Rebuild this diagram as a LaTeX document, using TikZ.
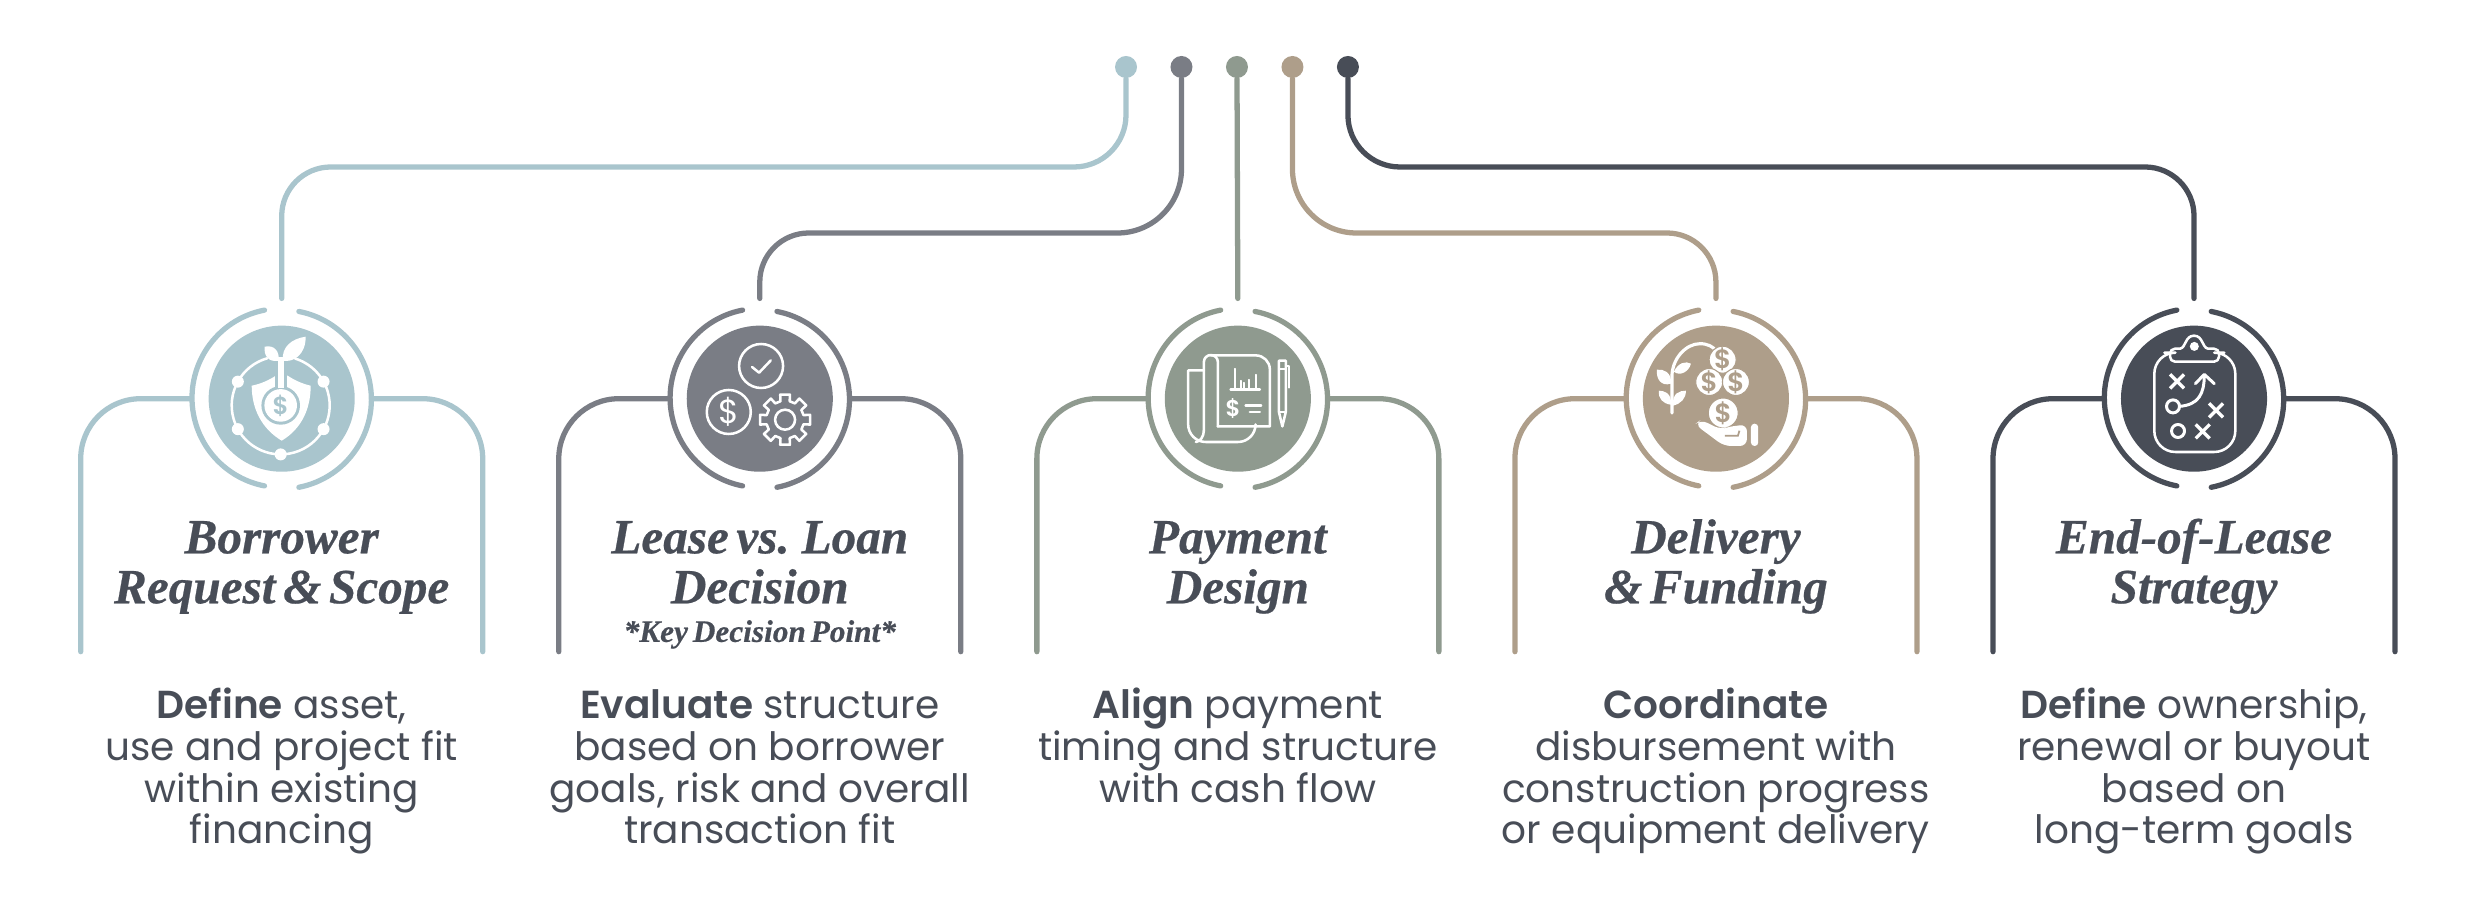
\documentclass[tikz,border=0pt]{standalone}
\usepackage{fontspec}
\usetikzlibrary{positioning}

\newfontfamily\headfont{Liberation Serif}[WordSpace=.62,BoldItalicFeatures={FakeBold=.5}]
\newfontfamily\bodyfont{Poppins}[BoldFont={Poppins SemiBold}]

\newcommand{\headlift}{\rule{0pt}{10pt}}
\newcommand{\bodylift}{\rule{0pt}{8.8pt}}

\definecolor{mist}{HTML}{A9C5CD}
\definecolor{steel}{HTML}{7A7D85}
\definecolor{sage}{HTML}{8F9A8F}
\definecolor{sand}{HTML}{AE9E8A}
\definecolor{slate}{HTML}{484D57}

\tikzset{
  dotnode/.style={circle,fill=#1,minimum size=.22cm,inner sep=0},
  hub/.style={circle,minimum size=1.79cm,inner sep=0},
  disk/.style={circle,fill=#1,minimum size=1.46cm,inner sep=0},
  link/.style={draw=#1,line width=1.5pt,line cap=round},
  headtext/.style={anchor=north,inner sep=0,align=center,text=slate,font=\headfont\bfseries\itshape\fontsize{14}{14.2}\selectfont},
  notetext/.style={anchor=north,inner sep=0,align=center,text=slate,font=\headfont\bfseries\itshape\fontsize{8.9}{10}\selectfont},
  bodytext/.style={anchor=north,inner sep=0,align=center,text=slate,font=\bodyfont\fontsize{11.1}{11.86}\selectfont},
  glyph/.style={draw=white,line width=.72pt,line cap=round,line join=round},
  coin/.style={inner sep=0,font=\bodyfont\bfseries\fontsize{#1}{#1}\selectfont}
}

\begin{document}
\begin{tikzpicture}[x=.01cm,y=.01cm,node distance=4.778cm]
    \useasboundingbox (0,0) rectangle (2475,900);

    % rails
    \coordinate (rail1) at (0,733);
    \coordinate (rail2) at (0,667);

    % dots
    \begin{scope}[node distance=.5545cm]
        \node[dotnode=mist]  (dot1) at (1126,833) {};
        \node[dotnode=steel] (dot2) [right of=dot1] {};
        \node[dotnode=sage]  (dot3) [right of=dot2] {};
        \node[dotnode=sand]  (dot4) [right of=dot3] {};
        \node[dotnode=slate] (dot5) [right of=dot4] {};
    \end{scope}

    % hubs
    \node[hub] (hub1) at (281.7,501.3) {};
    \node[hub] (hub2) [right of=hub1] {};
    \node[hub] (hub3) [right of=hub2] {};
    \node[hub] (hub4) [right of=hub3] {};
    \node[hub] (hub5) [right of=hub4] {};

    \foreach \i/\tint in {1/mist,2/steel,3/sage,4/sand,5/slate} {
        \node[disk=\tint] (disk\i) at (hub\i.center) {};
        \draw[link=\tint] (hub\i.101) arc[start angle=101,end angle=259,radius=.895cm];
        \draw[link=\tint] (hub\i.-79) arc[start angle=-79,end angle=79,radius=.895cm];
        \coordinate (footL\i) at ([shift={(-201,-253)}]hub\i.center);
        \coordinate (footR\i) at ([shift={(201,-253)}]hub\i.center);
        \draw[link=\tint,rounded corners=.6cm] (hub\i.west) -| (footL\i);
        \draw[link=\tint,rounded corners=.6cm] (hub\i.east) -| (footR\i);
    }

    % connectors
    \draw[link=mist,shorten >=.1cm,rounded corners=.52cm] (dot1) -- (dot1 |- rail1) [rounded corners=.49cm] -- (hub1 |- rail1) -- (hub1.north);
    \draw[link=steel,shorten >=.1cm,rounded corners=.64cm] (dot2) -- (dot2 |- rail2) [rounded corners=.49cm] -- (hub2 |- rail2) -- (hub2.north);
    \draw[link=sage,shorten >=.1cm] (dot3) -- (hub3.north);
    \draw[link=sand,shorten >=.1cm,rounded corners=.64cm] (dot4) -- (dot4 |- rail2) [rounded corners=.49cm] -- (hub4 |- rail2) -- (hub4.north);
    \draw[link=slate,shorten >=.1cm,rounded corners=.52cm] (dot5) -- (dot5 |- rail1) [rounded corners=.49cm] -- (hub5 |- rail1) -- (hub5.north);

    % titles
    \node[headtext] (head1) [below=.285cm of hub1] {\headlift Borrower\\Request \& Scope};
    \node[headtext] (head2) [below=.285cm of hub2] {\headlift Lease vs. Loan\\Decision};
    \node[headtext] (head3) [below=.285cm of hub3] {\headlift Payment\\Design};
    \node[headtext] (head4) [below=.285cm of hub4] {\headlift Delivery\\\& Funding};
    \node[headtext] (head5) [below=.285cm of hub5] {\headlift End-of-Lease\\Strategy};
    \node[notetext] (note2) [below=.15cm of head2] {*Key Decision Point*};

    % body text
    \node[bodytext] (body1) [below=1.98cm of hub1] {\bodylift\textbf{Define} asset,\\use and project fit\\within existing\\financing};
    \node[bodytext] (body2) [below=1.98cm of hub2] {\bodylift\textbf{Evaluate} structure\\based on borrower\\goals, risk and overall\\transaction fit};
    \node[bodytext] (body3) [below=1.98cm of hub3] {\bodylift\textbf{Align} payment\\timing and structure\\with cash flow};
    \node[bodytext] (body4) [below=1.98cm of hub4] {\bodylift\textbf{Coordinate}\\disbursement with\\construction progress\\or equipment delivery};
    \node[bodytext] (body5) [below=1.98cm of hub5] {\bodylift\textbf{Define} ownership,\\renewal or buyout\\based on\\long-term goals};

    % icon 1: shield and sprout
    \begin{scope}[shift={(hub1.center)}]
        \draw[glyph] (-1,-6.7) ++(106:49) arc[start angle=106,end angle=433,radius=49];
        \foreach \a in {151,209,270,331,29}
            \fill[white] (-1,-6.7) ++(\a:49) circle (6);
        \fill[white] (-30,13) .. controls (-20,15) and (-12,19) .. (-6,23) -- (6,23) .. controls (12,19) and (20,15) .. (29,13) .. controls (29,-10) and (20,-30) .. (0,-42) .. controls (-20,-30) and (-30,-10) .. (-30,13);
        \fill[mist] (-1,-6.7) circle (19.3);
        \fill[white] (-1,-6.7) circle (16.3);
        \fill[mist] (-7,10) rectangle (5,25);
        \fill[white] (-4,11) rectangle (2,42);
        \fill[white] (-3,38) .. controls (-14,36) and (-18,44) .. (-17,52) .. controls (-8,54) and (-2,48) .. (-3,38);
        \fill[white] (1,38) .. controls (12,36) and (24,44) .. (24,62) .. controls (10,60) and (0,52) .. (1,38);
        \node[coin=7,text=mist] (coin1) at (-1,-7) {\$};
    \end{scope}

    % icon 2: check, dollar, gear
    \begin{scope}[shift={(hub2.center)}]
        \draw[glyph] (1.3,32.7) circle (22);
        \draw[glyph] (-7.7,31.7) -- (-.7,26) -- (11,38.3);
        \draw[glyph] (-31,-13.3) circle (22);
        \node[coin=9.5,text=white] (coin2) at (-31,-13.3) {\mdseries\$};
        \begin{scope}[shift={(25.3,-21)}]
            \draw[glyph] (-11:25.5) foreach \a in {0,45,...,315} { -- (\a-11:25.5) -- (\a+11:25.5) -- (\a+14:19) -- (\a+31:19) } -- cycle;
            \draw[glyph] (0,0) circle (10);
        \end{scope}
    \end{scope}

    % icon 3: plan, chart and pen
    \begin{scope}[shift={(hub3.center)}]
        \draw[glyph] (-20,-27.7) -- (32,-27.7) [rounded corners=4] -- (32,43.3) -- (-27,43.3);
        \draw[glyph] (-34,-32) -- (-34,36.7) arc[start angle=180,end angle=0,radius=7] -- (-20,-27.7);
        \draw[glyph] (-34,28.3) -- (-49.7,28.3) [rounded corners=5] -- (-49.7,-43.3) -- (17.7,-43.3) -- (17.7,-27.7);
        \draw[glyph] (-34,-32) .. controls (-34,-38) and (-38,-43) .. (-42,-43.3);
        \draw[glyph] (-7.3,9.3) -- (22,9.3);
        \draw[glyph,line width=.5pt] (-3,30) -- (-3,10) (3,18) -- (3,10) (6,16) -- (6,10) (11,19) -- (11,10) (18,24) -- (18,10);
        \node[coin=6.5,text=white] (coin3) at (-4.7,-10) {\$};
        \draw[glyph] (7.7,-6.7) -- (23.3,-6.7) (12,-13.3) -- (22,-13.3);
        \draw[glyph] (41,38) -- (48,38) -- (48,-13) -- (44.5,-27.7) -- (41,-13) -- cycle;
        \draw[glyph,line width=.5pt] (41,30) -- (48,30) (41,-13) -- (48,-13);
        \draw[glyph,line width=.5pt] (48.5,33) -- (51,33) -- (51,11);
    \end{scope}

    % icon 4: coins, plant and hand
    \begin{scope}[shift={(hub4.center)}]
        \draw[glyph,line width=.9pt] (-44,-14.3) -- (-44,22) .. controls (-44,40) and (-30,55) .. (-16,55) .. controls (-8,55) and (-3,52) .. (0,48);
        \fill[white] (-45,15) .. controls (-55,12) and (-60,20) .. (-59,29) .. controls (-52,30) and (-44,26) .. (-45,15);
        \fill[white] (-42,27) .. controls (-38,36) and (-30,38) .. (-25,35) .. controls (-27,27) and (-36,22) .. (-42,27);
        \fill[white] (-45,-6) .. controls (-53,-5) and (-58,0) .. (-57,8) .. controls (-52,8) and (-44,6) .. (-45,-6);
        \fill[white] (-43,-7) .. controls (-35,-5) and (-30,0) .. (-30,8) .. controls (-36,8) and (-44,6) .. (-43,-7);
        \foreach \cx/\cy/\cr/\n in {6.7/39/13.5/a,-6.7/16.7/13.5/b,20/16.7/13.5/c,7.3/-14.3/15/d} {
            \fill[white,draw=sand,line width=.3pt] (\cx,\cy) circle (\cr);
            \node[coin=7.5,text=sand] (coin4\n) at (\cx,\cy) {\$};
        }
        \fill[white,rounded corners=2] (-21,-25.7) -- (-15,-21) -- (5,-31) -- (10,-28.5) -- (31,-25.7) -- (31,-47.3) -- (8,-47.3) -- cycle;
        \draw[sand,line width=.5pt] (9,-37) -- (22,-37) -- (23.5,-32);
        \fill[white,rounded corners=1] (35,-25) rectangle (42.3,-47.3);
    \end{scope}

    % icon 5: playbook
    \begin{scope}[shift={(hub5.center)}]
        \draw[glyph,rounded corners=6] (-29.7,46) -- (-39.7,46) -- (-39.7,-53.3) -- (41.3,-53.3) -- (41.3,46) -- (30.3,46);
        \draw[glyph] (-19,37) -- (20,37) arc[start angle=-90,end angle=0,radius=5] -- (25,45) arc[start angle=0,end angle=90,radius=5] -- (14,50) .. controls (8,51) and (9,63) .. (0,63) .. controls (-9,63) and (-8,51) .. (-14,50) -- (-19,50) arc[start angle=90,end angle=180,radius=5] -- (-24,42) arc[start angle=180,end angle=270,radius=5] -- cycle;
        \fill[white] (.3,52.3) circle (4.5);
        \foreach \cx/\cy in {-17/17.3,22/-11.7,8.7/-32.7}
            \draw[glyph,line width=.95pt,line cap=butt] (\cx-7,\cy-7) -- (\cx+7,\cy+7) (\cx-7,\cy+7) -- (\cx+7,\cy-7);
        \draw[glyph,line width=.85pt] (-21,-7.7) circle (6.5);
        \draw[glyph,line width=.85pt] (-16,-32.3) circle (6.5);
        \draw[glyph,line width=.85pt] (-14.5,-7.7) .. controls (5,-6) and (10,5) .. (10.3,23);
        \draw[glyph,line width=.85pt] (1.3,15) -- (10.3,24.3) -- (20.3,15);
    \end{scope}
\end{tikzpicture}
\end{document}
